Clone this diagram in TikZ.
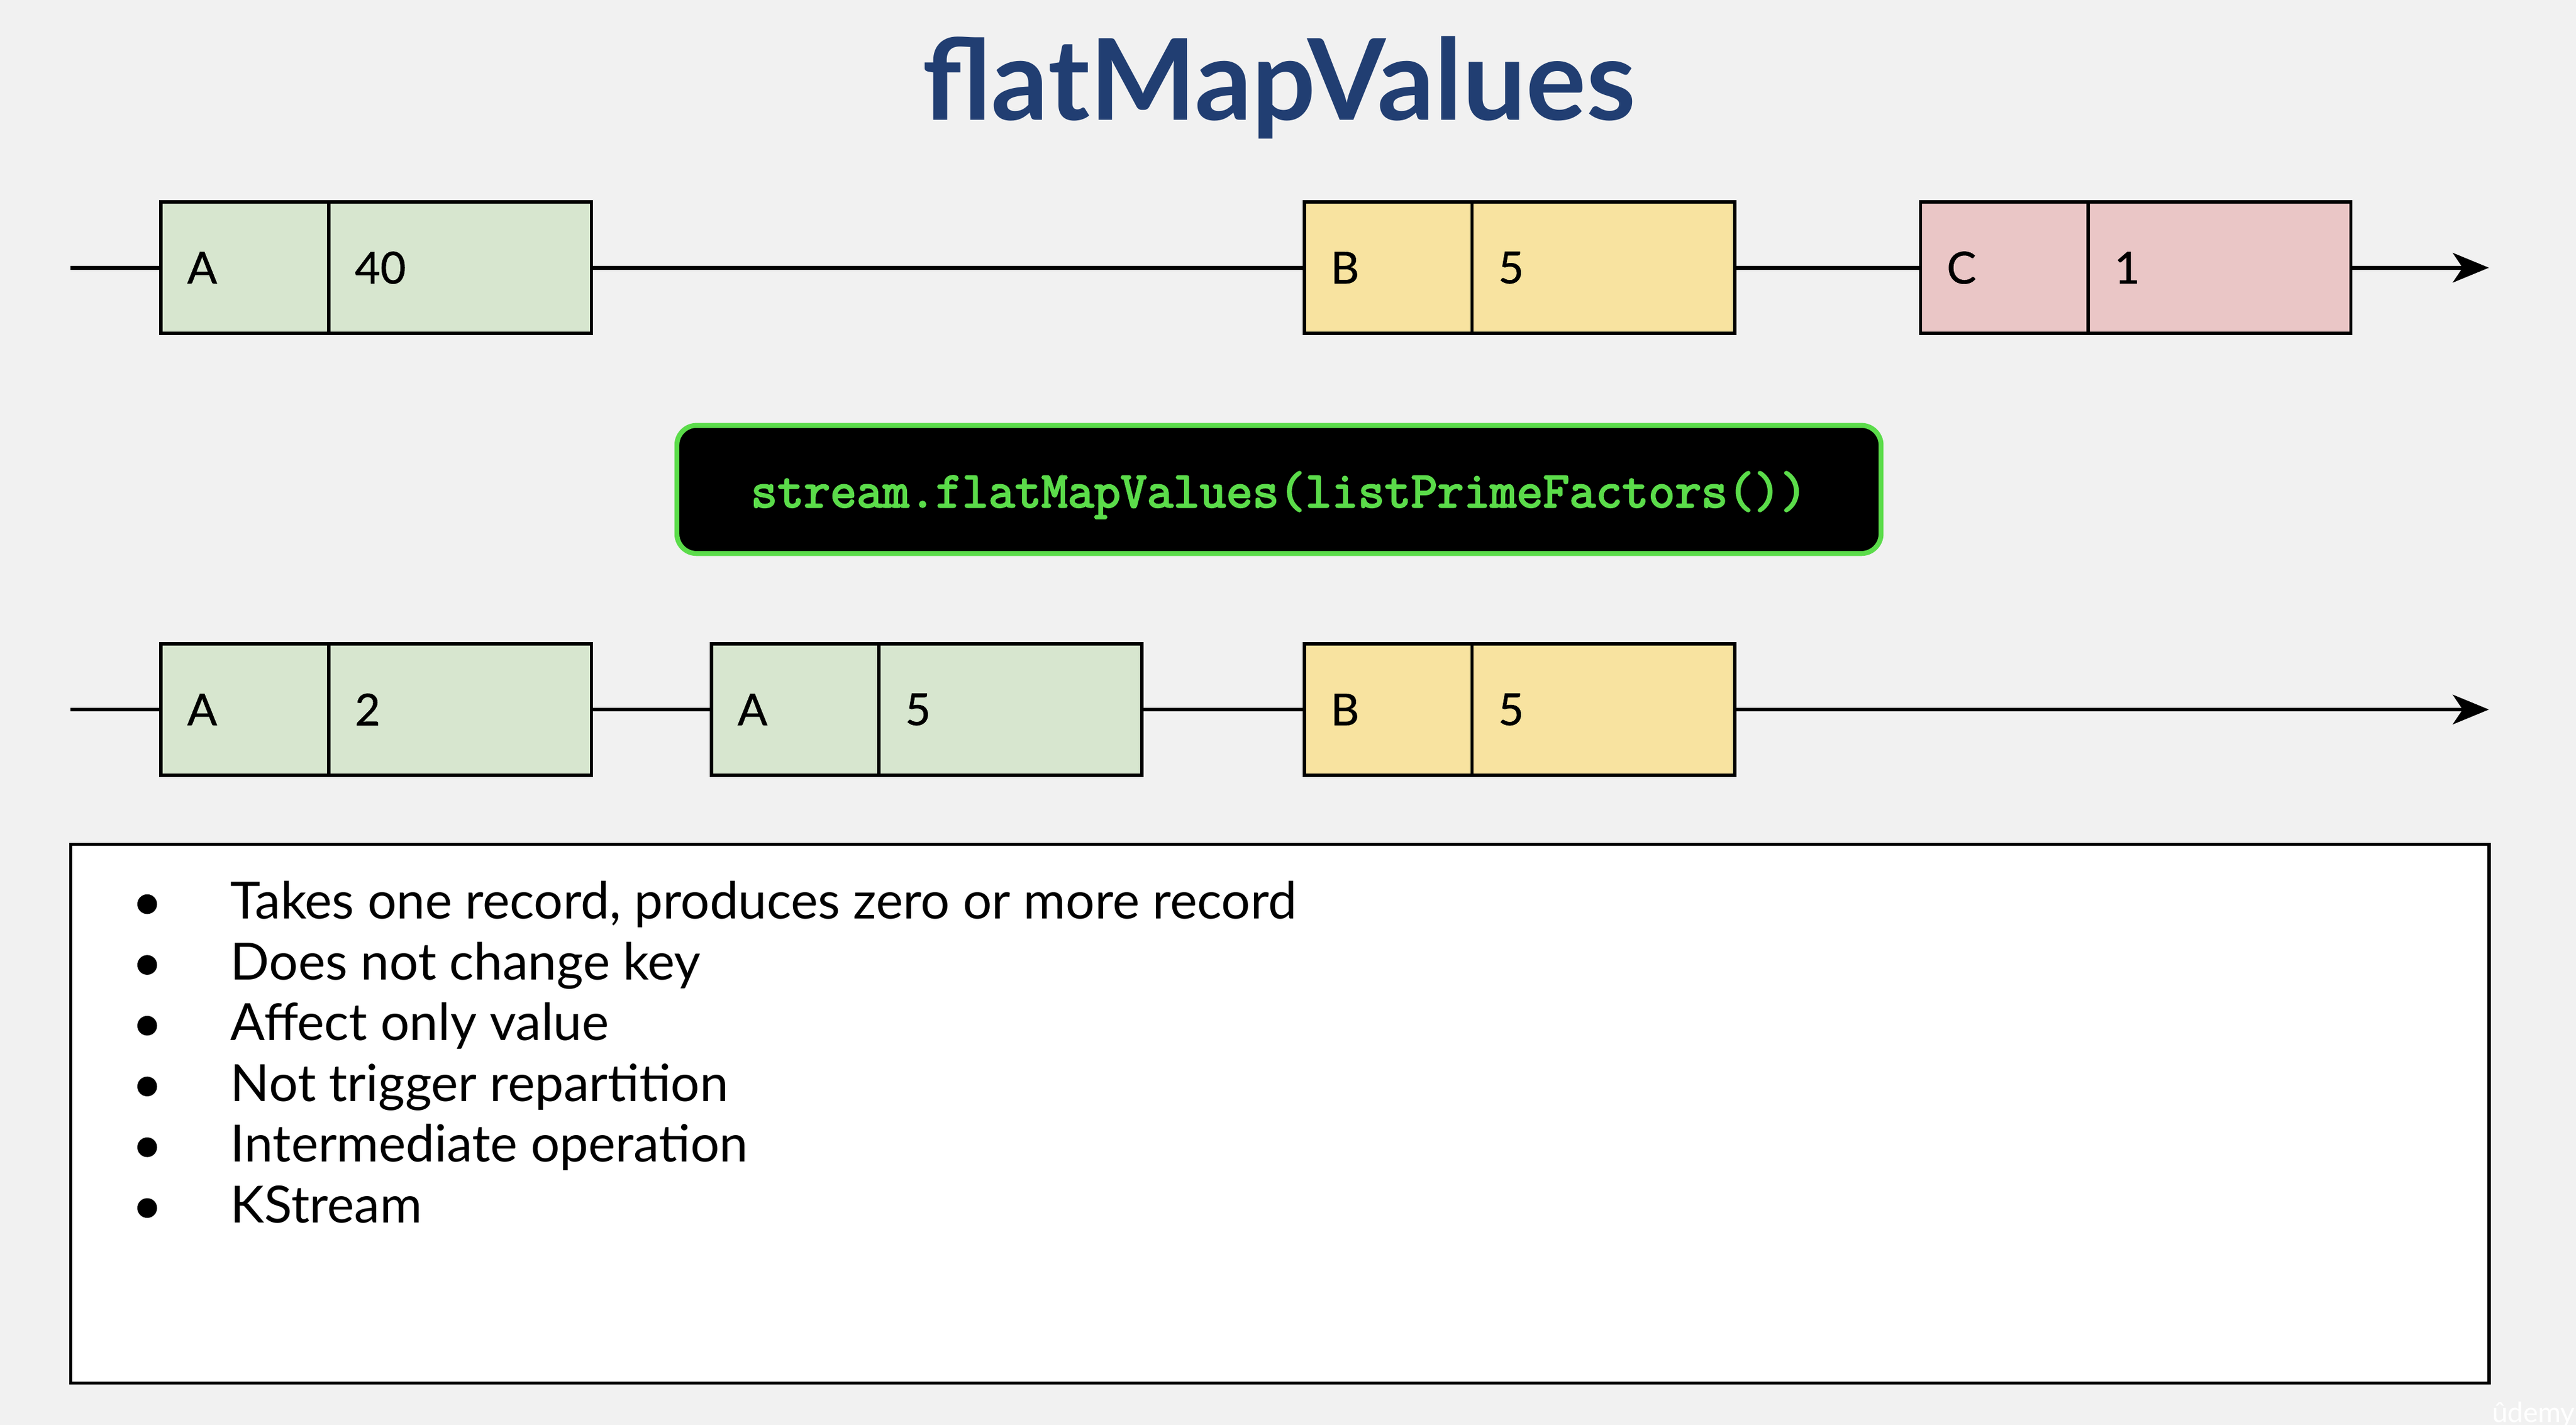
\documentclass[tikz,border=0pt]{standalone}
\usepackage{fontspec}
\setmainfont{Lato}
\newfontfamily\kodfont[FakeBold=3]{Latin Modern Mono}
\newfontfamily\etykieta[FakeBold=0.8]{Lato}
\usepackage{tikz}
\usetikzlibrary{arrows.meta, positioning}

\definecolor{tlo}{HTML}{F1F1F1}
\definecolor{granat}{HTML}{213E72}
\definecolor{zielony}{HTML}{D7E6CF}
\definecolor{zolty}{HTML}{F8E3A0}
\definecolor{rozowy}{HTML}{EAC6C6}
\definecolor{kodzielony}{HTML}{5BDC4A}

\begin{document}
\begin{tikzpicture}[
			x=0.5pt, y=-0.5pt,
			>={Stealth[length=11pt, width=9pt, inset=3pt]},
			klucz/.style={draw, line width=1pt, outer sep=0pt, minimum height=40pt, text width=35pt, inner xsep=8pt, align=left, font=\etykieta\fontsize{13.4}{16}\selectfont},
			wartosc/.style={klucz, text width=64pt},
			os/.style={line width=1.2pt},
			kod/.style={draw=kodzielony, fill=black, line width=1.5pt, rounded corners=6pt, minimum width=366.5pt, minimum height=39pt, text depth=0pt, text=kodzielony, font=\kodfont\fontsize{15.6}{18}\selectfont},
			notatki/.style={draw, fill=white, line width=1pt, minimum width=736pt, minimum height=164pt},
			kropka/.style={circle, fill=black, inner sep=0pt, minimum size=6pt},
			pozycja/.style={font=\fontsize{15.6}{19}\selectfont, inner sep=0pt}
			]
			% --- Tlo i granice obrazka ---
			\fill[tlo] (0,0) rectangle (1568,867.6);
			\useasboundingbox (0,0) rectangle (1568,867.6);
			
			% --- Tytul ---
			\node[anchor=base, text=granat, font=\bfseries\fontsize{34.3}{40}\selectfont] (tytul) at (778.5,73) {flatMapValues};
			
			% --- Strumien wejsciowy ---
			\node[coordinate] (start1) at (43,163) {}; % Poczatek osi
			\node[klucz, fill=zielony, anchor=west] (kA1) at (98,163) {A};
			\node[wartosc, fill=zielony, right=0pt of kA1] (wA1) {40};
			\node[klucz, fill=zolty, right=217pt of wA1] (kB1) {B};
			\node[wartosc, fill=zolty, right=0pt of kB1] (wB1) {5};
			\node[klucz, fill=rozowy, right=56.5pt of wB1] (kC1) {C};
			\node[wartosc, fill=rozowy, right=0pt of kC1] (wC1) {1};
			\node[coordinate] (koniec1) at (1515,163) {}; % Koniec osi
			
			\draw[os] (start1) -- (kA1);
			\draw[os] (wA1) -- (kB1);
			\draw[os] (wB1) -- (kC1);
			\draw[os, ->] (wC1) -- (koniec1);
			
			% --- Operacja ---
			\node[kod] (wywolanie) at (778.5,298) {stream.flatMapValues(listPrimeFactors())};
			
			% --- Strumien wyjsciowy ---
			\node[coordinate] (start2) at (43,432) {};
			\node[klucz, fill=zielony, anchor=west] (kA2) at (98,432) {A};
			\node[wartosc, fill=zielony, right=0pt of kA2] (wA2) {2};
			\node[klucz, fill=zielony, right=36.5pt of wA2] (kA3) {A};
			\node[wartosc, fill=zielony, right=0pt of kA3] (wA3) {5};
			\node[klucz, fill=zolty, right=49.5pt of wA3] (kB2) {B};
			\node[wartosc, fill=zolty, right=0pt of kB2] (wB2) {5};
			\node[coordinate] (koniec2) at (1515,432) {};
			
			\draw[os] (start2) -- (kA2);
			\draw[os] (wA2) -- (kA3);
			\draw[os] (wA3) -- (kB2);
			\draw[os, ->] (wB2) -- (koniec2);
			
			% --- Opis ---
			\node[notatki] (opis) at (779,678) {};
			\foreach \tekst [count=\i from 0] in {{Takes one record, produces zero or more record}, Does not change key, Affect only value, Not trigger repartition, Intermediate operation, KStream} {
				\node[kropka] (kropka\i) at (89.6,{550.5+37*\i}) {};
				\node[pozycja, anchor=base west] (punkt\i) at (140,{559.5+37*\i}) {\tekst};
			}
			
			% --- Znak wodny ---
			\node[anchor=base west, inner sep=0pt, text=white, font=\fontsize{8.5}{10}\selectfont] (znak) at (1516.5,866) {ûdemy};
			
		\end{tikzpicture}
\end{document}
